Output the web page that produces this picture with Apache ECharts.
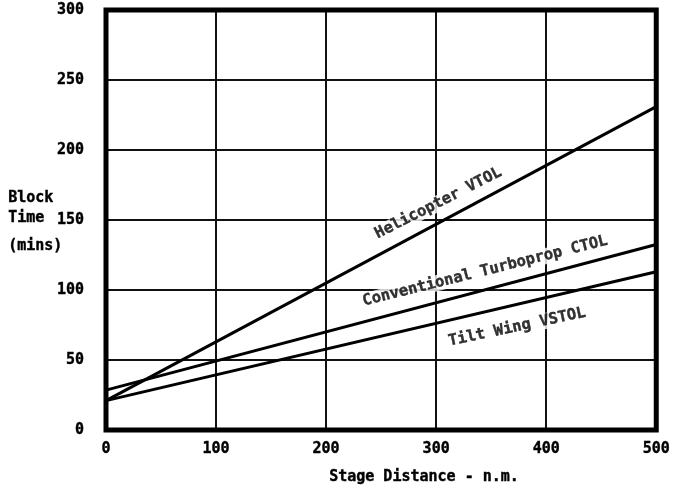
<!DOCTYPE html>
<html>
<head>
<meta charset="utf-8">
<script src="https://cdn.jsdelivr.net/npm/echarts@6/dist/echarts.min.js"></script>
<style>
  html, body { margin: 0; padding: 0; background: #fff; }
  #chart { width: 673px; height: 486px; }
</style>
</head>
<body>
<div id="chart"></div>
<script>
// stage distance (n.m.) at the two ends of each straight line
var distance = [0, 500];
var helicopterVTOL = [21, 231];
var turbopropCTOL = [28.5, 132.5];
var tiltWingVSTOL = [21, 113];

// text written along the lines: [x, y, angle]
var lineLabels = [
  { text: 'Helicopter VTOL', at: [302, 162], angle: 27 },
  { text: 'Conventional Turboprop CTOL', at: [344.5, 113.5], angle: 14 },
  { text: 'Tilt Wing VSTOL', at: [373.5, 73.5], angle: 12 }
];

var font = '"DejaVu Sans Mono", monospace';

function pairs(ys) {
  return distance.map(function (x, i) { return [x, ys[i]]; });
}

function lineSeries(name, ys) {
  return {
    name: name,
    type: 'line',
    data: pairs(ys),
    symbol: 'none',
    lineStyle: { color: '#000', width: 3 },
    z: 3
  };
}

var txt = { color: '#000', fontFamily: font, fontWeight: 'bold', fontSize: 15, textBorderColor: '#000', textBorderWidth: 0.4 };

var chart = echarts.init(document.getElementById('chart'));

chart.setOption({
  backgroundColor: '#fff',
  animation: false,
  grid: {
    left: 106, right: 9, top: 10, bottom: 56,
    show: true,
    borderColor: '#000',
    borderWidth: 5,
    backgroundColor: 'transparent',
    z: 5
  },
  xAxis: {
    type: 'value',
    min: 0, max: 500, interval: 100,
    axisLine: { show: false },
    axisTick: { show: false },
    axisLabel: Object.assign({ margin: 12 }, txt),
    splitLine: { show: true, lineStyle: { color: '#111', width: 2 } }
  },
  yAxis: {
    type: 'value',
    min: 0, max: 300, interval: 50,
    axisLine: { show: false },
    axisTick: { show: false },
    axisLabel: Object.assign({ margin: 22 }, txt),
    splitLine: { show: true, lineStyle: { color: '#111', width: 2 } }
  },
  graphic: [
    { type: 'text', left: 8, top: 190, style: { text: 'Block', fill: '#000', stroke: '#000', lineWidth: 0.4, font: 'bold 15px ' + font } },
    { type: 'text', left: 8, top: 210, style: { text: 'Time', fill: '#000', stroke: '#000', lineWidth: 0.4, font: 'bold 15px ' + font } },
    { type: 'text', left: 8, top: 238, style: { text: '(mins)', fill: '#000', stroke: '#000', lineWidth: 0.4, font: 'bold 15px ' + font } },
    { type: 'text', x: 424, y: 477, style: { text: 'Stage Distance - n.m.', fill: '#000', stroke: '#000', lineWidth: 0.4, font: 'bold 15px ' + font, align: 'center', verticalAlign: 'middle' } }
  ],
  series: [
    lineSeries('Helicopter VTOL', helicopterVTOL),
    lineSeries('Conventional Turboprop CTOL', turbopropCTOL),
    lineSeries('Tilt Wing VSTOL', tiltWingVSTOL),
    {
      type: 'scatter',
      symbolSize: 1,
      itemStyle: { color: 'transparent' },
      z: 4,
      data: lineLabels.map(function (l) {
        return {
          value: l.at,
          label: Object.assign({
            show: true,
            position: 'inside',
            formatter: l.text,
            rotate: l.angle,
            backgroundColor: '#fff',
            padding: [0, 3]
          }, txt, { fontSize: 15.5 })
        };
      })
    }
  ]
});
</script>
</body>
</html>
